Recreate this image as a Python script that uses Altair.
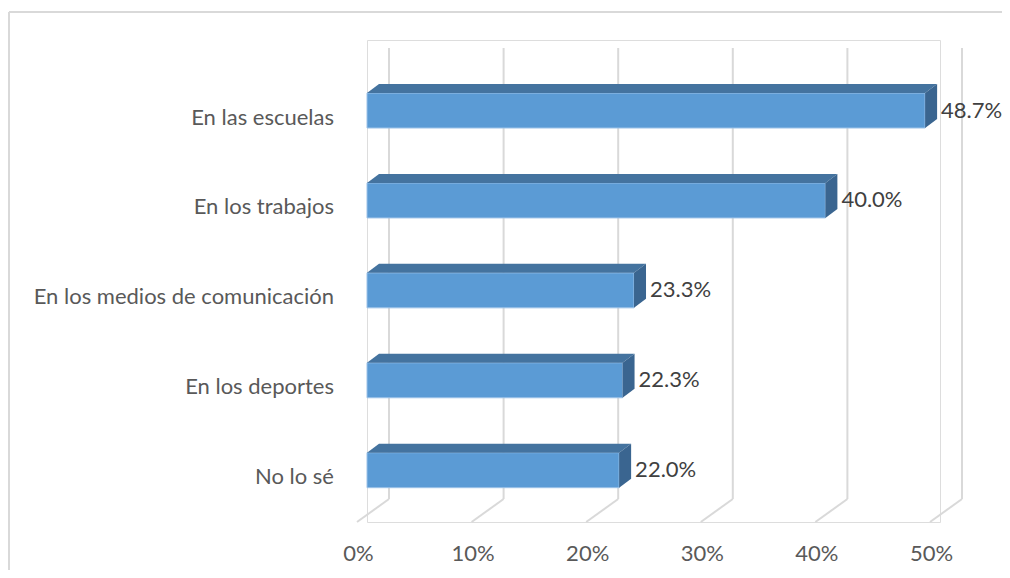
import altair as alt
import pandas as pd

categories = ["En las escuelas", "En los trabajos", "En los medios de comunicación",
              "En los deportes", "No lo sé"]
values = [48.7, 40.0, 23.3, 22.3, 22.0]
tick_values = [0, 10, 20, 30, 40, 50]

# geometry / style constants
W, H = 573, 482
XMAX = 50
Y_DOMAIN = [-0.784, 4.576]
PX_X = W / XMAX
PX_Y = H / (Y_DOMAIN[1] - Y_DOMAIN[0])
HALF = 17.5 / PX_Y          # half bar thickness (category units)
DX = 12 / PX_X              # bar depth, x (value units)
DY = 9 / PX_Y               # bar depth, y (category units)

FRONT = "#5B9BD5"
TOP = "#44739F"
SIDE = "#3A6590"
GRID = "#D9D9D9"
FONT = "Lato"
FS = 22

bars = pd.DataFrame({"cat": categories, "val": values, "idx": list(range(len(values)))})
bars["y0"] = bars["idx"] - HALF
bars["y1"] = bars["idx"] + HALF

top_rows, side_rows = [], []
for c, v, i in zip(categories, values, range(len(values))):
    top_rows.append({"cat": c, "y": i - HALF, "x": 0.0, "x2": v})
    top_rows.append({"cat": c, "y": i - HALF - DY, "x": DX, "x2": v + DX})
    side_rows.append({"cat": c, "x": v, "y": i - HALF, "y2": i + HALF})
    side_rows.append({"cat": c, "x": v + DX, "y": i - HALF - DY, "y2": i + HALF - DY})
top_df = pd.DataFrame(top_rows)
side_df = pd.DataFrame(side_rows)
ticks = pd.DataFrame({"t": tick_values})

xs = alt.Scale(domain=[0, XMAX], nice=False, zero=False)
ys = alt.Scale(domain=Y_DOMAIN, reverse=True, nice=False, zero=False)

# back wall gridlines
grid_v = alt.Chart(ticks).mark_rule(color=GRID, strokeWidth=2, xOffset=22).encode(
    x=alt.X("t:Q", scale=xs,
            axis=alt.Axis(values=tick_values, labelExpr="datum.value + '%'", title=None,
                          domain=False, ticks=False, grid=False, labelFont=FONT,
                          labelFontSize=FS, labelColor="#595959", labelOffset=-9,
                          labelFlush=False, labelOverlap=False,
                          labelBaseline="middle", labelPadding=31)),
    y=alt.value(8), y2=alt.value(459))
grid_d = alt.Chart(ticks).mark_rule(color=GRID, strokeWidth=2, xOffset=22, x2Offset=-10).encode(
    x=alt.X("t:Q", scale=xs), x2="t:Q", y=alt.value(459), y2=alt.value(482))

front = alt.Chart(bars).mark_rect(color=FRONT, stroke="#9CC2E8", strokeWidth=1).encode(
    x=alt.X("val:Q", scale=xs), x2=alt.datum(0),
    y=alt.Y("y0:Q", scale=ys, axis=None), y2="y1:Q")

top = alt.Chart(top_df).mark_area(color=TOP, orient="horizontal", opacity=1).encode(
    y=alt.Y("y:Q", scale=ys), x=alt.X("x:Q", scale=xs), x2="x2:Q", detail="cat:N")

side = alt.Chart(side_df).mark_area(color=SIDE, orient="vertical", opacity=1).encode(
    x=alt.X("x:Q", scale=xs), y=alt.Y("y:Q", scale=ys), y2="y2:Q", detail="cat:N")

vlabels = alt.Chart(bars).transform_calculate(
    lbl="format(datum.val, '.1f') + '%'"
).mark_text(align="left", baseline="middle", dx=16, font=FONT,
            fontSize=FS, color="#404040").encode(
    x=alt.X("val:Q", scale=xs), y=alt.Y("idx:Q", scale=ys), text="lbl:N")

clabels = alt.Chart(bars).mark_text(align="right", baseline="middle", dy=7, font=FONT,
                                    fontSize=FS, color="#595959").encode(
    x=alt.value(-33), y=alt.Y("idx:Q", scale=ys), text="cat:N")

frame_l = alt.Chart(ticks).mark_rule(color=GRID, strokeWidth=1.5).encode(
    x=alt.value(-358), y=alt.value(-28), y2=alt.value(700))
frame_t = alt.Chart(ticks).mark_rule(color=GRID, strokeWidth=1.5).encode(
    x=alt.value(-358), x2=alt.value(900), y=alt.value(-28))

chart = alt.layer(frame_l, frame_t, grid_v, grid_d, front, top, side, vlabels, clabels).properties(
    width=W, height=H,
    autosize=alt.AutoSizeParams(type="none"),
    padding={"left": 359, "top": 32, "right": 62, "bottom": 48},
).configure_view(stroke=None).configure(background="white")

chart.save("out.html", embed_options={"renderer": "svg", "actions": False})
